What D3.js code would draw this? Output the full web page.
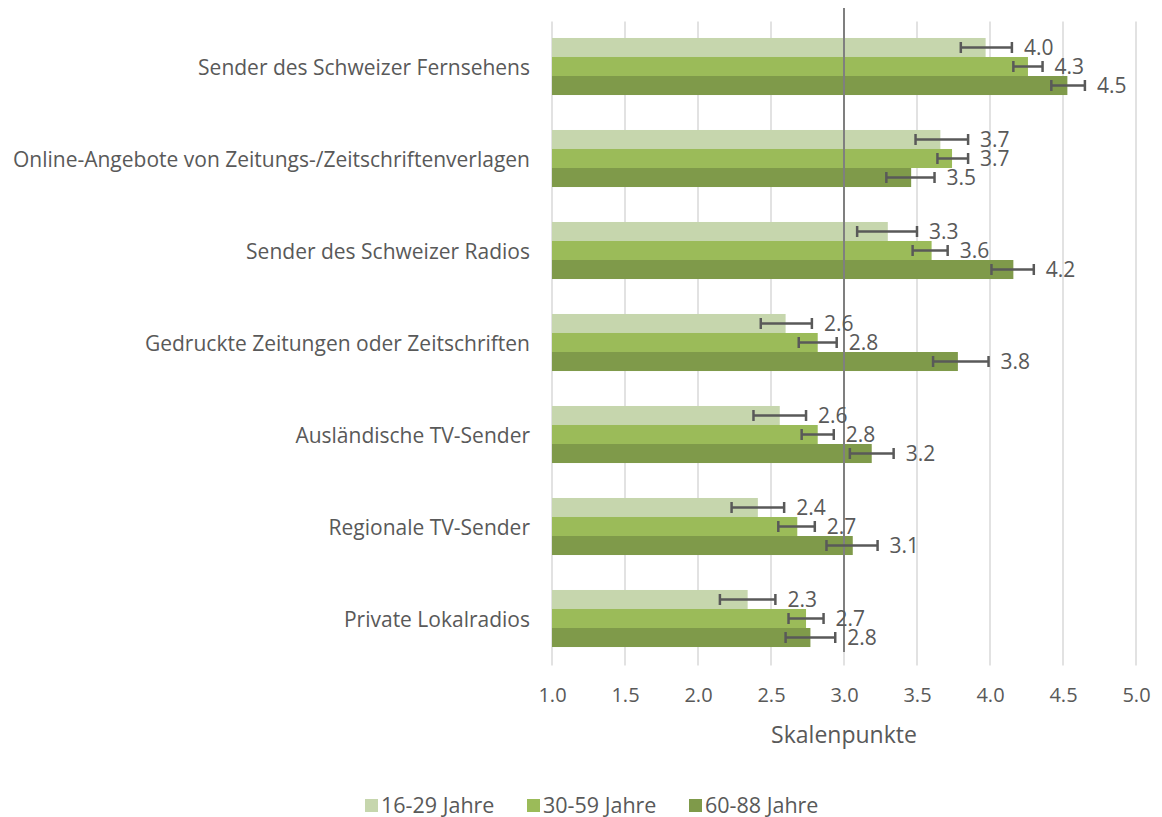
<!DOCTYPE html>
<html>
<head>
<meta charset="utf-8">
<script src="https://cdn.jsdelivr.net/npm/d3@7"></script>
<style>
  body { margin: 0; background: #fff; overflow: hidden; }
  svg { display: block; }
  text { font-family: "Open Sans", sans-serif; fill: #595959; }
</style>
</head>
<body>
<div id="chart"></div>
<script>
// categories, top to bottom
var categories = [
  "Sender des Schweizer Fernsehens",
  "Online-Angebote von Zeitungs-/Zeitschriftenverlagen",
  "Sender des Schweizer Radios",
  "Gedruckte Zeitungen oder Zeitschriften",
  "Ausländische TV-Sender",
  "Regionale TV-Sender",
  "Private Lokalradios"
];
var seriesNames = ["16-29 Jahre", "30-59 Jahre", "60-88 Jahre"];

// means per age group
var mean16 = [3.97, 3.66, 3.30, 2.60, 2.56, 2.41, 2.34];
var mean30 = [4.26, 3.74, 3.60, 2.82, 2.82, 2.68, 2.74];
var mean60 = [4.53, 3.46, 4.16, 3.78, 3.19, 3.06, 2.77];

// error bar ends
var lo16 = [3.80, 3.49, 3.09, 2.43, 2.38, 2.23, 2.15];
var hi16 = [4.15, 3.85, 3.50, 2.78, 2.74, 2.59, 2.53];
var lo30 = [4.16, 3.64, 3.47, 2.69, 2.71, 2.55, 2.62];
var hi30 = [4.36, 3.85, 3.71, 2.95, 2.93, 2.80, 2.86];
var lo60 = [4.42, 3.29, 4.01, 3.61, 3.04, 2.88, 2.60];
var hi60 = [4.65, 3.62, 4.30, 3.99, 3.34, 3.23, 2.94];

var xTicks = [1.0, 1.5, 2.0, 2.5, 3.0, 3.5, 4.0, 4.5, 5.0];
var refValue = 3.0;

var colors = ["#c6d6ad", "#9bbb59", "#7f9a4a"];

var W = 1162, H = 817;
var plotLeft = 552, plotRight = 1136, plotTop = 20.5, plotBottom = 664.5;

var svg = d3.select("#chart").append("svg")
  .attr("width", W)
  .attr("height", H)
  .style("background", "#fff");

var x = d3.scaleLinear().domain([1, 5]).range([plotLeft, plotRight]);
var y0 = d3.scaleBand().domain(categories).range([plotTop, plotBottom])
  .paddingInner(0.38).paddingOuter(0.19);
var y1 = d3.scaleBand().domain(seriesNames).range([0, y0.bandwidth()]);

var means = [mean16, mean30, mean60];
var los = [lo16, lo30, lo60];
var his = [hi16, hi30, hi60];

var rows = [];
categories.forEach(function (c, i) {
  seriesNames.forEach(function (s, j) {
    rows.push({ cat: c, series: s, j: j, v: means[j][i], lo: los[j][i], hi: his[j][i] });
  });
});

// grid
svg.append("g").attr("class", "grid")
  .selectAll("line")
  .data(xTicks)
  .enter().append("line")
  .attr("x1", function (d) { return x(d); })
  .attr("x2", function (d) { return x(d); })
  .attr("y1", plotTop + 1)
  .attr("y2", plotBottom + 1)
  .attr("stroke", "#d9d9d9")
  .attr("stroke-width", 1.5);

// bars
svg.append("g").attr("class", "bars")
  .selectAll("rect")
  .data(rows)
  .enter().append("rect")
  .attr("x", x(1))
  .attr("y", function (d) { return y0(d.cat) + y1(d.series); })
  .attr("width", function (d) { return x(d.v) - x(1); })
  .attr("height", y1.bandwidth())
  .attr("fill", function (d) { return colors[d.j]; });

// reference line at 3.0
svg.append("line")
  .attr("x1", x(refValue)).attr("x2", x(refValue))
  .attr("y1", 8).attr("y2", 652)
  .attr("stroke", "#7f7f7f")
  .attr("stroke-width", 2);

// error bars
var err = svg.append("g").attr("class", "errors")
  .selectAll("g")
  .data(rows)
  .enter().append("g")
  .attr("transform", function (d) {
    return "translate(0," + (y0(d.cat) + y1(d.series) + y1.bandwidth() / 2) + ")";
  });
err.append("line")
  .attr("x1", function (d) { return x(d.lo); })
  .attr("x2", function (d) { return x(d.hi); })
  .attr("stroke", "#595959").attr("stroke-width", 2.5);
err.append("line")
  .attr("x1", function (d) { return x(d.lo); })
  .attr("x2", function (d) { return x(d.lo); })
  .attr("y1", -5.5).attr("y2", 5.5)
  .attr("stroke", "#595959").attr("stroke-width", 2.5);
err.append("line")
  .attr("x1", function (d) { return x(d.hi); })
  .attr("x2", function (d) { return x(d.hi); })
  .attr("y1", -5.5).attr("y2", 5.5)
  .attr("stroke", "#595959").attr("stroke-width", 2.5);

// value labels
err.append("text")
  .attr("x", function (d) { return x(d.hi) + 12; })
  .attr("dy", "0.36em")
  .style("font-size", "21px")
  .text(function (d) { return d.v.toFixed(1); });

// category labels
svg.append("g").selectAll("text")
  .data(categories)
  .enter().append("text")
  .attr("x", 530)
  .attr("y", function (d) { return y0(d) + y0.bandwidth() / 2 + 1; })
  .attr("dy", "0.35em")
  .attr("text-anchor", "end")
  .style("font-size", "21px")
  .text(function (d) { return d; });

// x axis
var xAxis = d3.axisBottom(x).tickValues(xTicks).tickFormat(d3.format(".1f")).tickSize(0).tickPadding(0);
var gx = svg.append("g")
  .attr("transform", "translate(0," + 688 + ")")
  .call(xAxis);
gx.select(".domain").remove();
gx.selectAll("text").style("font-size", "20px").attr("fill", "#595959")
  .style("font-family", "'Open Sans', sans-serif");

svg.append("text")
  .attr("x", x(refValue))
  .attr("y", 743)
  .attr("text-anchor", "middle")
  .style("font-size", "23px")
  .text("Skalenpunkte");

// legend
var legend = svg.append("g").selectAll("g")
  .data(seriesNames)
  .enter().append("g")
  .attr("transform", function (d, i) { return "translate(" + (365 + i * 162) + ",799)"; });
legend.append("rect")
  .attr("width", 13).attr("height", 13)
  .attr("fill", function (d, i) { return colors[i]; });
legend.append("text")
  .attr("x", 16).attr("y", 6.5).attr("dy", "0.36em")
  .style("font-size", "21.5px")
  .text(function (d) { return d; });
</script>
</body>
</html>
